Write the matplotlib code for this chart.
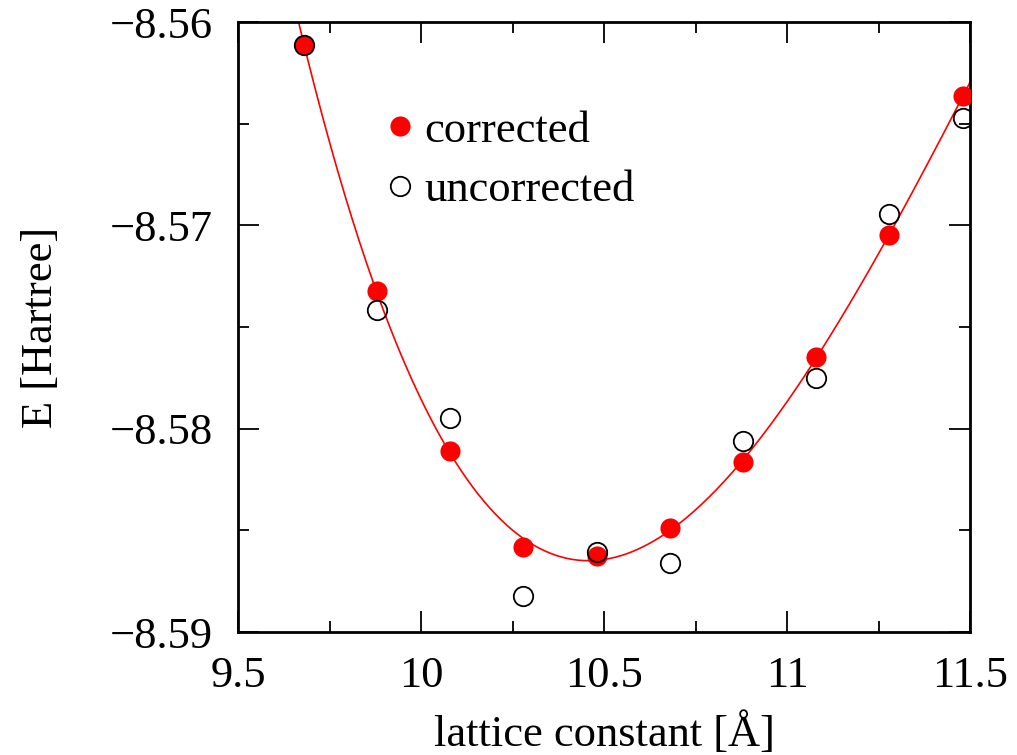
import numpy as np
import matplotlib
matplotlib.use("Agg")
import matplotlib.pyplot as plt
from matplotlib.ticker import MultipleLocator

plt.rcParams['font.family'] = ['Liberation Serif', 'DejaVu Serif']
plt.rcParams['mathtext.fontset'] = 'stix'

lattice = [9.68, 9.88, 10.08, 10.28, 10.48, 10.68, 10.88, 11.08, 11.28, 11.48]
e_corrected = [-8.56113, -8.57323, -8.58110, -8.58582, -8.58626,
               -8.58489, -8.58164, -8.57648, -8.57048, -8.56364]
e_uncorrected = [-8.56113, -8.57416, -8.57948, -8.58823, -8.58607,
                 -8.58661, -8.58061, -8.57751, -8.56944, -8.56472]

xticks = [9.5, 10, 10.5, 11, 11.5]
xtick_labels = ["9.5", "10", "10.5", "11", "11.5"]
yticks = [-8.59, -8.58, -8.57, -8.56]
ytick_labels = ["\u22128.59", "\u22128.58", "\u22128.57", "\u22128.56"]

fig = plt.figure(figsize=(10.17, 7.55), dpi=100)
ax = fig.add_axes([238/1017, 1-632/755, (970-238)/1017, (632-22)/755])

# fit curve through corrected data
coef = np.polyfit(lattice, e_corrected, 4)
xf = np.linspace(9.5, 11.5, 400)
ax.plot(xf, np.polyval(coef, xf), color='red', lw=1.2, zorder=2)

ax.plot(lattice, e_corrected, 'o', color='red', markersize=14.5,
        markeredgewidth=0, zorder=3, label='corrected')
ax.plot(lattice, e_uncorrected, 'o', markerfacecolor='none',
        markeredgecolor='black', markersize=14, markeredgewidth=1.3,
        zorder=4, label='uncorrected')

ax.set_xlim(9.5, 11.5)
ax.set_ylim(-8.59, -8.56)
ax.set_xticks(xticks)
ax.set_xticklabels(xtick_labels)
ax.set_yticks(yticks)
ax.set_yticklabels(ytick_labels)
ax.xaxis.set_minor_locator(MultipleLocator(0.25))
ax.yaxis.set_minor_locator(MultipleLocator(0.005))
ax.tick_params(which='both', direction='in', top=True, right=True,
               labelsize=32, width=1.3)
ax.tick_params(which='major', length=15)
ax.tick_params(which='minor', length=8)
ax.tick_params(axis='y', pad=18)
ax.tick_params(axis='x', pad=17)
for s in ax.spines.values():
    s.set_linewidth(2)

ax.set_xlabel("lattice constant [Å]", fontsize=32, labelpad=12)
ax.set_ylabel("E [Hartree]", fontsize=32, labelpad=35)

leg = ax.legend(loc='upper left', bbox_to_anchor=(0.167, 0.884), frameon=False,
                fontsize=32, handletextpad=0.05, borderaxespad=0,
                labelspacing=0.44, handlelength=1.0, markerscale=1.0)

fig.savefig("out.png", dpi=100)
